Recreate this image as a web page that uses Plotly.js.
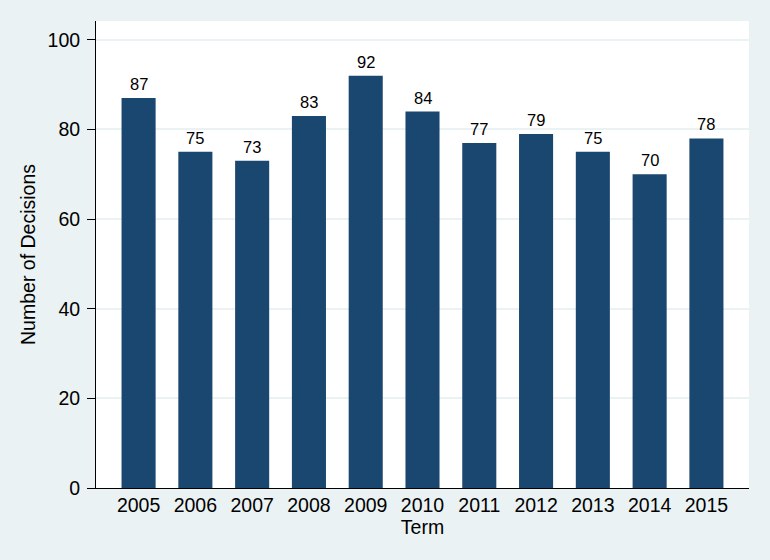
<!DOCTYPE html>
<html>
<head>
<meta charset="utf-8">
<script src="https://cdn.plot.ly/plotly-3.0.1.min.js"></script>
<style>html,body{margin:0;padding:0;background:#EAF2F3;}</style>
</head>
<body>
<div id="chart" style="width:770px;height:560px;"></div>
<script>
const terms = ["2005","2006","2007","2008","2009","2010","2011","2012","2013","2014","2015"];
const decisions = [87, 75, 73, 83, 92, 84, 77, 79, 75, 70, 78];
const yTicks = [0, 20, 40, 60, 80, 100];

const font = "Liberation Sans, Arial, sans-serif";

const trace = {
  type: "bar",
  x: terms,
  y: decisions,
  marker: {color: "#1A476F", line: {width: 0}},
  width: 0.6,
  hoverinfo: "x+y"
};

const annotations = terms.map((t, i) => ({
  x: i, y: decisions[i], xref: "x", yref: "y",
  text: String(decisions[i]),
  showarrow: false, yanchor: "bottom", yshift: 3,
  font: {family: font, size: 16.5, color: "#000"}
}));

const layout = {
  width: 770, height: 560,
  paper_bgcolor: "#EAF2F3",
  plot_bgcolor: "#FFFFFF",
  margin: {l: 96, r: 21, t: 21, b: 72},
  showlegend: false,
  bargap: 0.4,
  xaxis: {
    type: "category",
    range: [-0.75, 10.75],
    ticks: "",
    showline: true, linecolor: "#000", linewidth: 1,
    showgrid: false,
    tickfont: {family: font, size: 19.5, color: "#000"},
    title: {text: "Term", font: {family: font, size: 19.5, color: "#000"}, standoff: 2}
  },
  yaxis: {
    range: [0, 104.2],
    tickvals: yTicks,
    ticktext: yTicks.map(String),
    ticks: "outside", ticklen: 8, tickcolor: "#000", tickwidth: 1,
    ticklabelstandoff: 3,
    showline: true, linecolor: "#000", linewidth: 1,
    showgrid: true, gridcolor: "#EAF2F3", gridwidth: 2,
    zeroline: false,
    tickfont: {family: font, size: 19.5, color: "#000"},
    title: {text: "Number of Decisions", font: {family: font, size: 19.5, color: "#000"}, standoff: 6}
  },
  annotations: annotations
};

Plotly.newPlot("chart", [trace], layout, {displayModeBar: false, staticPlot: true});
</script>
</body>
</html>
